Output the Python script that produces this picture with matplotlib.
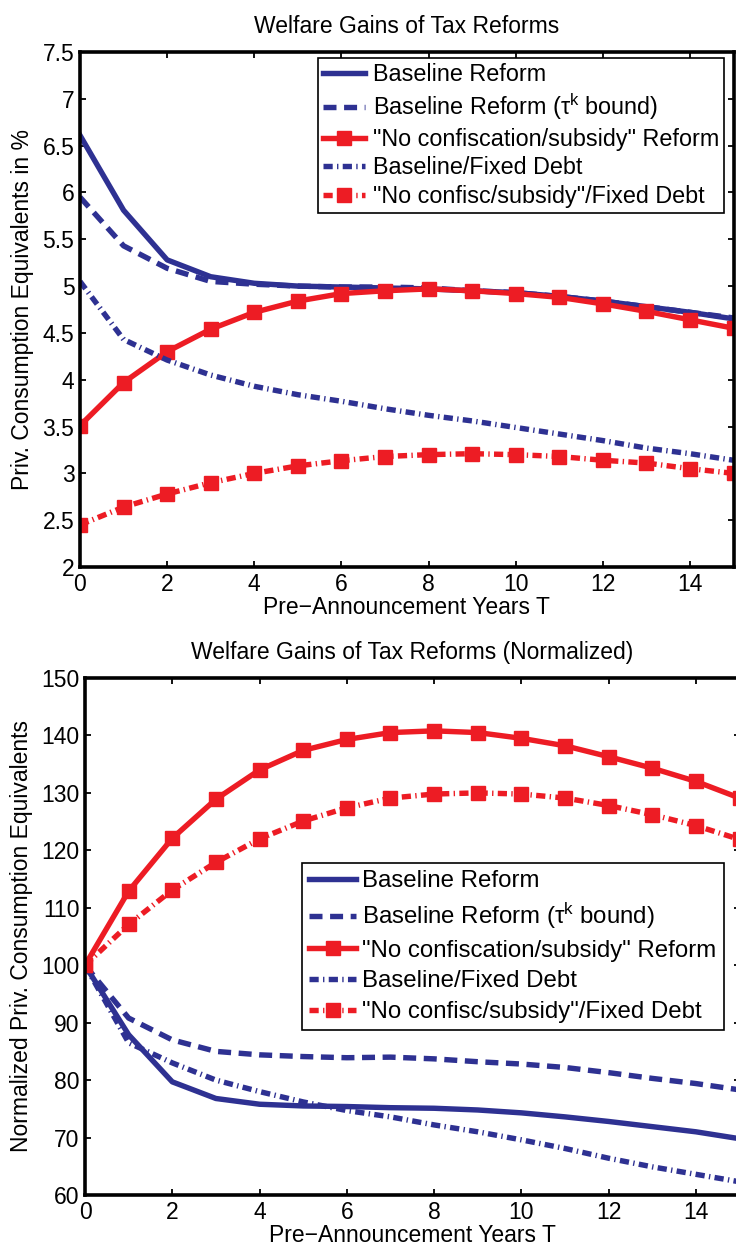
import matplotlib
matplotlib.use("Agg")
import matplotlib.pyplot as plt
from matplotlib.ticker import FixedLocator, FuncFormatter

plt.rcParams["font.family"] = ["Liberation Sans", "DejaVu Sans"]
plt.rcParams["mathtext.fontset"] = "custom"
plt.rcParams["mathtext.rm"] = "Liberation Sans"
plt.rcParams["mathtext.it"] = "Liberation Sans:italic"

years = list(range(16))

series_labels = [
    "Baseline Reform",
    r"Baseline Reform (τ$^{\mathrm{k}}$ bound)",
    '"No confiscation/subsidy" Reform',
    "Baseline/Fixed Debt",
    '"No confisc/subsidy"/Fixed Debt',
]

# Welfare gains, private consumption equivalents in %
baseline = [6.61, 5.81, 5.28, 5.10, 5.03, 5.00, 4.99, 4.98, 4.97, 4.95, 4.93, 4.89, 4.84, 4.78, 4.72, 4.65]
baseline_tau = [5.95, 5.43, 5.19, 5.05, 5.02, 5.00, 4.99, 4.99, 4.98, 4.95, 4.93, 4.89, 4.84, 4.78, 4.72, 4.66]
noconf = [3.51, 3.97, 4.30, 4.54, 4.72, 4.84, 4.92, 4.95, 4.97, 4.95, 4.92, 4.88, 4.81, 4.73, 4.64, 4.55]
baseline_fd = [5.05, 4.43, 4.21, 4.05, 3.93, 3.84, 3.77, 3.69, 3.62, 3.56, 3.49, 3.42, 3.35, 3.27, 3.21, 3.14]
noconf_fd = [2.45, 2.64, 2.78, 2.90, 3.00, 3.08, 3.135, 3.18, 3.20, 3.21, 3.20, 3.18, 3.14, 3.11, 3.05, 3.00]

# Same gains normalized to 100 at T = 0
baseline_n = [100, 87.9, 79.7, 76.8, 75.8, 75.5, 75.4, 75.2, 75.1, 74.8, 74.3, 73.6, 72.8, 71.9, 71.0, 69.8]
baseline_tau_n = [100, 90.8, 87.0, 85.0, 84.4, 84.1, 83.9, 84.0, 83.7, 83.2, 82.8, 82.2, 81.3, 80.3, 79.4, 78.3]
noconf_n = [100, 112.9, 122.1, 128.9, 134.0, 137.4, 139.3, 140.5, 140.8, 140.5, 139.5, 138.2, 136.3, 134.3, 132.0, 129.1]
baseline_fd_n = [100, 86.5, 83.0, 80.0, 78.0, 76.2, 74.7, 73.6, 72.2, 71.0, 69.6, 68.1, 66.4, 64.9, 63.6, 62.3]
noconf_fd_n = [100, 107.1, 113.1, 117.9, 122.0, 125.1, 127.4, 129.1, 129.8, 130.0, 129.8, 129.1, 127.8, 126.2, 124.3, 121.9]

x_ticks = [0, 2, 4, 6, 8, 10, 12, 14]
top_yticks = [2, 2.5, 3, 3.5, 4, 4.5, 5, 5.5, 6, 6.5, 7, 7.5]
bottom_yticks = [60, 70, 80, 90, 100, 110, 120, 130, 140, 150]

BLUE = "#2E3192"
RED = "#ED1C24"
LW = 3.9
FS = 16.5

styles = [
    dict(color=BLUE, lw=LW, ls="-"),
    dict(color=BLUE, lw=LW, ls=(0, (2.4, 1.4))),
    dict(color=RED, lw=LW, ls="-", marker="s", ms=9.5, mfc=RED, mec=RED),
    dict(color=BLUE, lw=LW, ls=(0, (1.7, 0.8, 0.25, 0.8))),
    dict(color=RED, lw=LW, ls=(0, (1.7, 0.8, 0.25, 0.8)), marker="s", ms=9.5, mfc=RED, mec=RED),
]

fig = plt.figure(figsize=(7.36, 12.5), dpi=100)
W, H = 736.0, 1250.0


def make_axes(px_left, px_right, px_top, px_bottom):
    return fig.add_axes([px_left / W, 1 - px_bottom / H,
                         (px_right - px_left) / W, (px_bottom - px_top) / H])


def style_axes(ax, yticks, ylim):
    ax.set_xlim(0, 15)
    ax.set_ylim(*ylim)
    ax.xaxis.set_major_locator(FixedLocator(x_ticks))
    ax.yaxis.set_major_locator(FixedLocator(yticks))
    ax.yaxis.set_major_formatter(FuncFormatter(lambda v, p: "%g" % v))
    ax.tick_params(direction="in", top=True, right=True, length=4, width=1.3,
                   labelsize=FS, pad=4)
    for sp in ax.spines.values():
        sp.set_linewidth(2.6)
    ax.set_xlabel("Pre\u2212Announcement Years T", fontsize=FS, labelpad=0)


ax1 = make_axes(80, 733.6, 52, 567)
for vals, lab, st in zip([baseline, baseline_tau, noconf, baseline_fd, noconf_fd],
                         series_labels, styles):
    ax1.plot(years, vals, label=lab, **st)
style_axes(ax1, top_yticks, (2, 7.5))
ax1.set_ylabel("Priv. Consumption Equivalents in %", fontsize=FS, labelpad=6)
ax1.set_title("Welfare Gains of Tax Reforms", fontsize=FS, pad=14)
leg1 = ax1.legend(loc="upper left", bbox_to_anchor=(0.364, 0.988), fontsize=16.8,
                  frameon=True, fancybox=False, edgecolor="black", framealpha=1,
                  handlelength=1.8, handletextpad=0.35, labelspacing=0.24,
                  borderpad=0.2, borderaxespad=0)
leg1.get_frame().set_linewidth(1.2)

ax2 = make_axes(85, 739.6, 678, 1195)
for vals, lab, st in zip([baseline_n, baseline_tau_n, noconf_n, baseline_fd_n, noconf_fd_n],
                         series_labels, styles):
    ax2.plot(years, vals, label=lab, **st)
style_axes(ax2, bottom_yticks, (60, 150))
ax2.set_ylabel("Normalized Priv. Consumption Equivalents", fontsize=FS, labelpad=6)
ax2.set_title("Welfare Gains of Tax Reforms (Normalized)", fontsize=FS, pad=14)
leg2 = ax2.legend(loc="upper left", bbox_to_anchor=(0.3315, 0.642), fontsize=17.3,
                  frameon=True, fancybox=False, edgecolor="black", framealpha=1,
                  handlelength=1.95, handletextpad=0.25, labelspacing=0.36,
                  borderpad=0.3, borderaxespad=0)
leg2.get_frame().set_linewidth(1.2)

fig.savefig("out.png", dpi=100)
